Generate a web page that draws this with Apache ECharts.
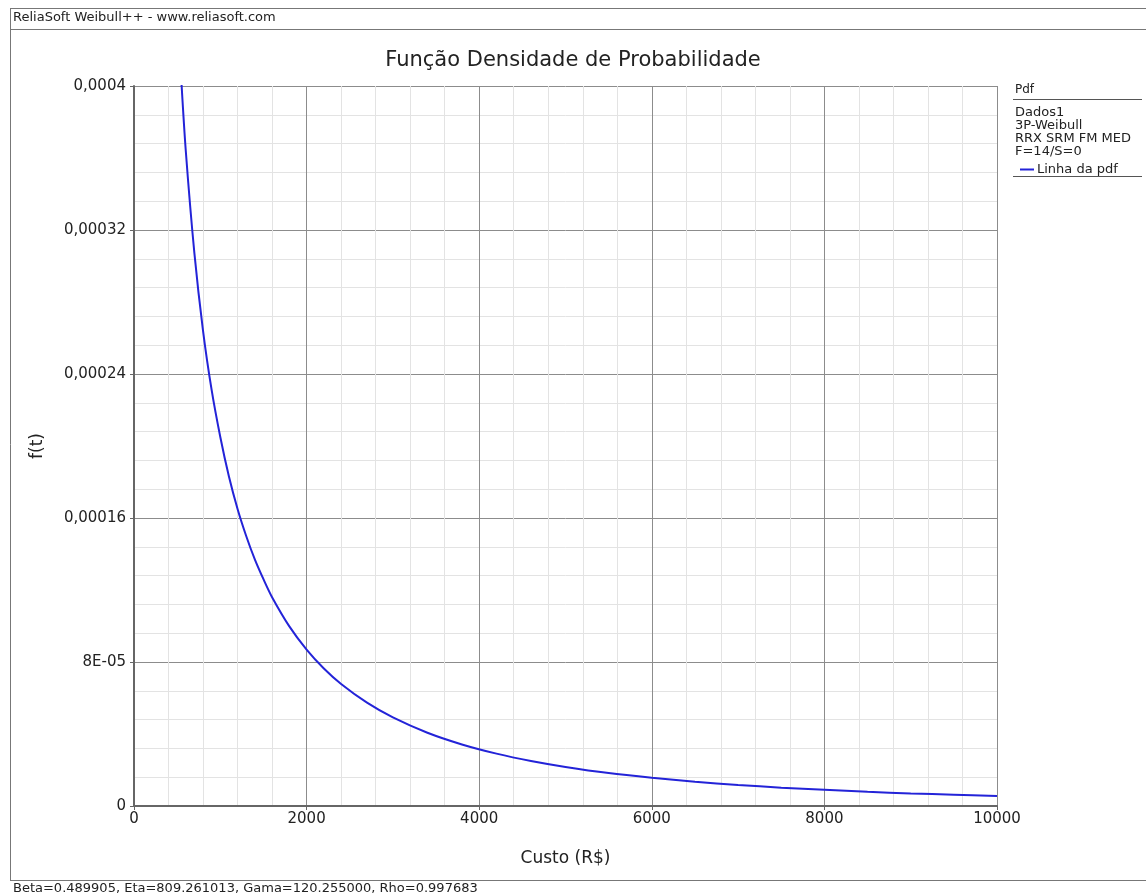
<!DOCTYPE html>
<html>
<head>
<meta charset="utf-8">
<title>Função Densidade de Probabilidade</title>
<script src="https://cdn.jsdelivr.net/npm/echarts@6/dist/echarts.min.js"></script>
<style>
  html, body { margin: 0; padding: 0; background: #fff; }
  #chart { width: 1146px; height: 893px; }
</style>
</head>
<body>
<div id="chart"></div>
<script>
// curva pdf (Custo em R$, f(t))
var custo = [540, 600, 700, 800, 900, 1000, 1100, 1200, 1300, 1400, 1500, 1600, 1800, 2000, 2200, 2400, 2700, 3000, 3400, 3800, 4200, 4600, 5000, 5500, 6000, 6500, 7000, 7500, 8000, 8500, 9000, 9500, 10000];
var pdf = [0.00041, 0.000364, 0.000307, 0.000264, 0.000231, 0.000205, 0.000183, 0.000165, 0.00015, 0.000137, 0.000126, 0.000116, 0.0000998, 0.0000869, 0.0000764, 0.0000678, 0.0000574, 0.0000492, 0.0000407, 0.0000342, 0.0000291, 0.000025, 0.0000217, 0.0000183, 0.0000157, 0.0000135, 0.0000117, 0.0000102, 0.000009, 0.0000079, 0.000007, 0.0000063, 0.0000056];
var yLabels = ['0', '8E-05', '0,00016', '0,00024', '0,00032', '0,0004'];
var xLabels = ['0', '2000', '4000', '6000', '8000', '10000'];
var infoLines = ['Dados1', '3P-Weibull', 'RRX SRM FM MED', 'F=14/S=0'];
var header = 'ReliaSoft Weibull++ - www.reliasoft.com';
var footer = 'Beta=0.489905, Eta=809.261013, Gama=120.255000, Rho=0.997683';

var font = 'DejaVu Sans';
var chart = echarts.init(document.getElementById('chart'), null, { renderer: 'canvas' });

var graphics = [
  // moldura
  { type: 'line', shape: { x1: 10, y1: 8.5, x2: 1146, y2: 8.5 }, style: { stroke: '#777', lineWidth: 1 } },
  { type: 'line', shape: { x1: 10.5, y1: 8, x2: 10.5, y2: 881 }, style: { stroke: '#777', lineWidth: 1 } },
  { type: 'line', shape: { x1: 10, y1: 29.5, x2: 1146, y2: 29.5 }, style: { stroke: '#777', lineWidth: 1 } },
  { type: 'line', shape: { x1: 10, y1: 880.5, x2: 1146, y2: 880.5 }, style: { stroke: '#777', lineWidth: 1 } },
  { type: 'text', left: 13, top: 11, style: { text: header, font: '13px ' + font, fill: '#222' } },
  { type: 'text', left: 13, top: 882, style: { text: footer, font: '13px ' + font, fill: '#222' } },
  // legenda (texto)
  { type: 'text', left: 1015, top: 84, style: { text: 'Pdf', font: '12px ' + font, fill: '#222' } },
  { type: 'line', shape: { x1: 1013, y1: 99.5, x2: 1142, y2: 99.5 }, style: { stroke: '#555', lineWidth: 1 } },
  { type: 'line', shape: { x1: 1013, y1: 176.5, x2: 1142, y2: 176.5 }, style: { stroke: '#555', lineWidth: 1 } }
];
infoLines.forEach(function (s, i) {
  graphics.push({ type: 'text', left: 1015, top: 106 + i * 13, style: { text: s, font: '13px ' + font, fill: '#222' } });
});

var option = {
  animation: false,
  title: {
    text: 'Função Densidade de Probabilidade',
    left: 'center',
    top: 45,
    textStyle: { fontFamily: font, fontSize: 21, fontWeight: 'normal', color: '#222' }
  },
  legend: {
    left: 1015,
    top: 158,
    itemWidth: 14,
    itemHeight: 2,
    itemGap: 4,
    icon: 'rect',
    textStyle: { fontFamily: font, fontSize: 13, color: '#222', padding: [0, 0, 0, -2] },
    data: ['Linha da pdf']
  },
  grid: { left: 134, right: 149, top: 86, bottom: 87, containLabel: false },
  xAxis: {
    type: 'value',
    min: 0,
    max: 10000,
    interval: 2000,
    name: 'Custo (R$)',
    nameLocation: 'middle',
    nameGap: 44,
    nameTextStyle: { fontFamily: font, fontSize: 17, color: '#222' },
    axisLine: { onZero: false, lineStyle: { color: '#666', width: 2 } },
    axisTick: { show: true, length: 4, lineStyle: { color: '#666' } },
    axisLabel: {
      fontFamily: font, fontSize: 15, color: '#222', margin: 6,
      formatter: function (v) { return xLabels[Math.round(v / 2000)]; }
    },
    splitLine: { show: true, lineStyle: { color: '#8c8c8c', width: 1 } },
    minorTick: { show: false, splitNumber: 5 },
    minorSplitLine: { show: true, lineStyle: { color: '#e3e3e3', width: 1 } }
  },
  yAxis: {
    type: 'value',
    min: 0,
    max: 0.0004,
    interval: 0.00008,
    name: 'f(t)',
    nameLocation: 'middle',
    nameGap: 88,
    nameRotate: 90,
    nameTextStyle: { fontFamily: font, fontSize: 17, color: '#222' },
    axisLine: { show: true, lineStyle: { color: '#666', width: 2 } },
    axisTick: { show: true, length: 4, lineStyle: { color: '#666' } },
    axisLabel: {
      fontFamily: font, fontSize: 15, color: '#222', margin: 8,
      formatter: function (v) { return yLabels[Math.round(v / 0.00008)]; }
    },
    splitLine: { show: true, lineStyle: { color: '#8c8c8c', width: 1 } },
    minorTick: { show: false, splitNumber: 5 },
    minorSplitLine: { show: true, lineStyle: { color: '#e3e3e3', width: 1 } }
  },
  series: [{
    name: 'Linha da pdf',
    type: 'line',
    data: custo.map(function (t, i) { return [t, pdf[i]]; }),
    smooth: 0.3,
    showSymbol: false,
    clip: true,
    lineStyle: { color: '#2323d8', width: 2 },
    itemStyle: { color: '#2323d8' }
  }],
  graphic: graphics
};
chart.setOption(option);
</script>
</body>
</html>
